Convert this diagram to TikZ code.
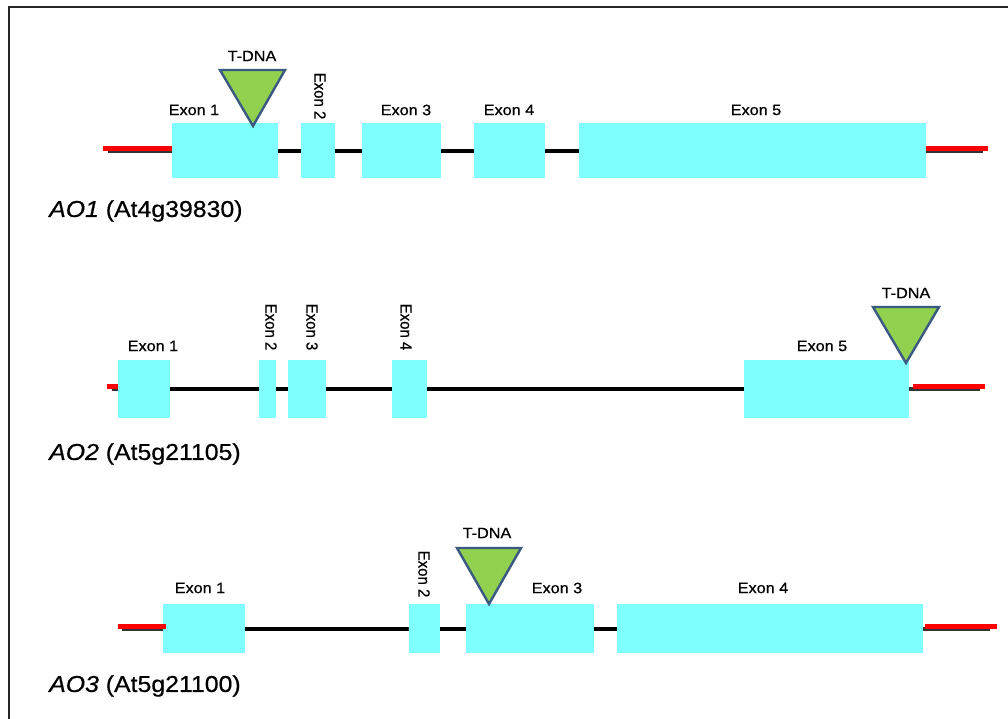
\documentclass[tikz,border=0pt]{standalone}
\usepackage{fontspec}
\setmainfont{Liberation Sans}
\newfontfamily\labelfont[FakeBold=0.6]{Liberation Sans}
\definecolor{exonfill}{HTML}{80FFFF}
\definecolor{tdnafill}{HTML}{92D050}
\definecolor{tdnaline}{HTML}{3B5A82}
\definecolor{utr}{HTML}{FF0000}
\tikzset{
  exon/.style={rectangle, fill=exonfill, draw=none, inner sep=0pt},
  intron/.style={line width=4pt, black},
  utrline/.style={line width=4.5pt, utr},
  shadowline/.style={line width=4pt, black!80},
  tdna/.style={fill=tdnafill, draw=tdnaline, line width=2.4pt, line join=miter},
  exonlab/.style={font=\labelfont\fontsize{15}{18}\selectfont, inner sep=0pt, xscale=1.08, transform shape},
  genelab/.style={font=\labelfont\fontsize{23}{27}\selectfont, inner sep=0pt, anchor=west, xscale=1.08, transform shape},
}
\begin{document}
\begin{tikzpicture}[x=1pt, y=-1pt]
\useasboundingbox (0,0) rectangle (1008,718);
\clip (0,0) rectangle (1008,718);
\fill[white] (0,0) rectangle (1008,718);
% outer frame
\draw[line width=2.2pt, black!85] (9,7) rectangle (1040,750);

% ---------------- AO1 ----------------
\coordinate (a0) at (103,148.5);
\coordinate (a9) at (988,148.5);
\coordinate (a0s) at (108,150.5);
\coordinate (a9s) at (983,150.5);
\draw[shadowline] (a0s) -- (a9s);
\node[exon, minimum width=106, minimum height=55] (a1) at (225,150.5) {};
\node[exon, minimum width=34,  minimum height=55] (a2) at (318,150.5) {};
\node[exon, minimum width=79,  minimum height=55] (a3) at (401.5,150.5) {};
\node[exon, minimum width=71,  minimum height=55] (a4) at (509.5,150.5) {};
\node[exon, minimum width=347, minimum height=55] (a5) at (752.5,150.5) {};
\foreach \p/\q in {a1/a2,a2/a3,a3/a4,a4/a5}
  \draw[intron] (\p.east) -- (\q.west);
\draw[utrline] (a0) -- (a0 -| a1.west);
\draw[utrline] (a0 -| a5.east) -- (a9);
\node[exonlab] (a1l) at (194,110) {Exon 1};
\node[exonlab, rotate=-90] (a2l) at (320,96) {Exon 2};
\node[exonlab] (a3l) at (406,110) {Exon 3};
\node[exonlab] (a4l) at (509,110) {Exon 4};
\node[exonlab] (a5l) at (756,110) {Exon 5};
\draw[tdna] (220,70) -- (285,70) -- (253,126) -- cycle;
\node[exonlab] (at) at (252,56) {T-DNA};
\node[genelab] (ag) at (49,211) {\itshape AO1\upshape{} (At4g39830)};

% ---------------- AO2 ----------------
\coordinate (b0) at (107,386.5);
\coordinate (b9) at (985,386.5);
\coordinate (b0s) at (112,388.5);
\coordinate (b9s) at (980,388.5);
\draw[shadowline] (b0s) -- (b9s);
\node[exon, minimum width=52,  minimum height=58] (b1) at (144,389) {};
\node[exon, minimum width=17,  minimum height=58] (b2) at (267.5,389) {};
\node[exon, minimum width=38,  minimum height=58] (b3) at (307,389) {};
\node[exon, minimum width=35,  minimum height=58] (b4) at (409.5,389) {};
\node[exon, minimum width=165, minimum height=58] (b5) at (826.5,389) {};
\foreach \p/\q in {b1/b2,b2/b3,b3/b4,b4/b5}
  \draw[intron] (\p.east) -- (\q.west);
\draw[utrline] (b0) -- (b0 -| b1.west);
\draw[utrline] ([xshift=4pt]b0 -| b5.east) -- (b9);
\node[exonlab] (b1l) at (153,346) {Exon 1};
\node[exonlab, rotate=-90] (b2l) at (271,327) {Exon 2};
\node[exonlab, rotate=-90] (b3l) at (312,327) {Exon 3};
\node[exonlab, rotate=-90] (b4l) at (406,327) {Exon 4};
\node[exonlab] (b5l) at (822,346) {Exon 5};
\draw[tdna] (873,307) -- (939,307) -- (906,363) -- cycle;
\node[exonlab] (bt) at (906,293) {T-DNA};
\node[genelab] (bg) at (49,454) {\itshape AO2\upshape{} (At5g21105)};

% ---------------- AO3 ----------------
\coordinate (c0) at (118,626.5);
\coordinate (c9) at (997,626.5);
\coordinate (c0s) at (122,628.5);
\coordinate (c9s) at (990,628.5);
\draw[shadowline] (c0s) -- (c9s);
\node[exon, minimum width=82,  minimum height=49] (c1) at (204,628.5) {};
\node[exon, minimum width=31,  minimum height=49] (c2) at (424,628.5) {};
\node[exon, minimum width=128, minimum height=49] (c3) at (530,628.5) {};
\node[exon, minimum width=306, minimum height=49] (c4) at (770,628.5) {};
\foreach \p/\q in {c1/c2,c2/c3,c3/c4}
  \draw[intron] (\p.east) -- (\q.west);
\draw[utrline] (c0) -- ([xshift=3pt]c0 -| c1.west);
\draw[utrline] ([xshift=2pt]c0 -| c4.east) -- (c9);
\node[exonlab] (c1l) at (200,588) {Exon 1};
\node[exonlab, rotate=-90] (c2l) at (424,574) {Exon 2};
\node[exonlab] (c3l) at (557,588) {Exon 3};
\node[exonlab] (c4l) at (763,588) {Exon 4};
\draw[tdna] (457,548) -- (521,548) -- (489,604) -- cycle;
\node[exonlab] (ct) at (487,533) {T-DNA};
\node[genelab] (cg) at (49,686) {\itshape AO3\upshape{} (At5g21100)};
\end{tikzpicture}
\end{document}
